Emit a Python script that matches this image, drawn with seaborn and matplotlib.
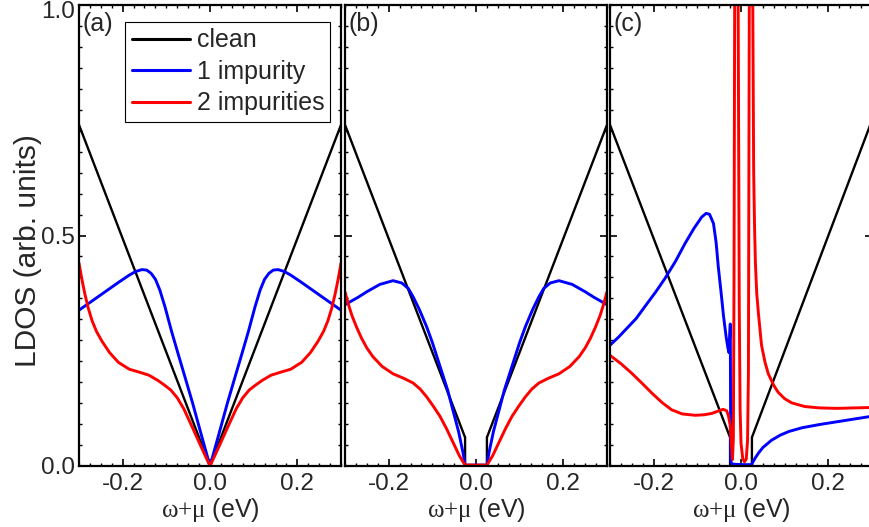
import numpy as np
import pandas as pd
import matplotlib
matplotlib.use("Agg")
import matplotlib.pyplot as plt
import matplotlib.transforms as mtransforms
import seaborn as sns
from matplotlib.ticker import MultipleLocator, FixedLocator

# ---------------- data ----------------
# panel (a)
a_clean_w = [-0.3, 0.0, 0.3]
a_clean_v = [0.74, 0.0, 0.74]
a_one_w = [-0.300, -0.270, -0.240, -0.210, -0.185, -0.170, -0.156, -0.145, -0.135, -0.125,
           -0.115, -0.103, -0.088, -0.072, -0.057, -0.040, -0.020, 0.000,
           0.020, 0.040, 0.057, 0.072, 0.088, 0.103, 0.115, 0.125, 0.135, 0.145,
           0.156, 0.170, 0.185, 0.210, 0.240, 0.270, 0.300]
a_one_v = [0.338, 0.358, 0.378, 0.398, 0.414, 0.422, 0.426, 0.425, 0.418, 0.405,
           0.382, 0.345, 0.292, 0.240, 0.192, 0.137, 0.068, 0.000,
           0.068, 0.137, 0.192, 0.240, 0.292, 0.345, 0.382, 0.405, 0.418, 0.425,
           0.426, 0.422, 0.414, 0.398, 0.378, 0.358, 0.338]
a_two_w = [-0.300, -0.294, -0.287, -0.279, -0.270, -0.260, -0.247, -0.230, -0.210, -0.185,
           -0.160, -0.140, -0.120, -0.105, -0.090, -0.075, -0.060, -0.040, -0.020, 0.000,
           0.020, 0.040, 0.060, 0.075, 0.090, 0.105, 0.120, 0.140, 0.160, 0.185,
           0.210, 0.230, 0.247, 0.260, 0.270, 0.279, 0.287, 0.294, 0.300]
a_two_v = [0.440, 0.408, 0.375, 0.343, 0.315, 0.292, 0.270, 0.246, 0.225, 0.210,
           0.203, 0.197, 0.186, 0.176, 0.165, 0.148, 0.124, 0.083, 0.041, 0.000,
           0.041, 0.083, 0.124, 0.148, 0.165, 0.176, 0.186, 0.197, 0.203, 0.210,
           0.225, 0.246, 0.270, 0.292, 0.315, 0.343, 0.375, 0.408, 0.440]

# panel (b)
b_clean_w = [-0.3, -0.025, -0.025, 0.025, 0.025, 0.3]
b_clean_v = [0.74, 0.062, 0.0, 0.0, 0.062, 0.74]
b_one_w = [-0.300, -0.270, -0.250, -0.220, -0.190, -0.170, -0.155, -0.144, -0.130, -0.113,
           -0.100, -0.082, -0.065, -0.052, -0.040, -0.030, -0.025, 0.025,
           0.030, 0.040, 0.052, 0.065, 0.082, 0.100, 0.113, 0.130, 0.144, 0.155,
           0.170, 0.190, 0.220, 0.250, 0.270, 0.300]
b_one_v = [0.350, 0.366, 0.378, 0.394, 0.402, 0.397, 0.385, 0.367, 0.340, 0.302,
           0.268, 0.215, 0.165, 0.118, 0.075, 0.030, 0.002, 0.002,
           0.030, 0.075, 0.118, 0.165, 0.215, 0.268, 0.302, 0.340, 0.367, 0.385,
           0.397, 0.402, 0.394, 0.378, 0.366, 0.350]
b_two_w = [-0.300, -0.292, -0.284, -0.273, -0.262, -0.250, -0.236, -0.215, -0.190, -0.165,
           -0.144, -0.128, -0.113, -0.098, -0.082, -0.067, -0.052, -0.038, -0.025, 0.025,
           0.038, 0.052, 0.067, 0.082, 0.098, 0.113, 0.128, 0.144, 0.165, 0.190,
           0.215, 0.236, 0.250, 0.262, 0.273, 0.284, 0.292, 0.300]
b_two_v = [0.378, 0.350, 0.326, 0.300, 0.277, 0.256, 0.237, 0.216, 0.200, 0.190,
           0.180, 0.167, 0.150, 0.130, 0.107, 0.080, 0.050, 0.022, 0.002, 0.002,
           0.022, 0.050, 0.080, 0.107, 0.130, 0.150, 0.167, 0.180, 0.190, 0.200,
           0.216, 0.237, 0.256, 0.277, 0.300, 0.326, 0.350, 0.378]

# panel (c)
c_clean_w = [-0.3, -0.025, -0.025, 0.025, 0.025, 0.3]
c_clean_v = [0.74, 0.062, 0.0, 0.0, 0.062, 0.75]
c_one_w = [-0.300, -0.280, -0.265, -0.240, -0.220, -0.195, -0.174, -0.150, -0.128, -0.108,
           -0.090, -0.080, -0.072, -0.063, -0.057, -0.052, -0.046, -0.040, -0.034, -0.030,
           -0.0275, -0.0255, -0.0245, -0.0235, -0.020, 0.000, 0.024, 0.028, 0.033, 0.040,
           0.050, 0.070, 0.090, 0.110, 0.140, 0.180, 0.220, 0.260, 0.300]
c_one_v = [0.262, 0.280, 0.295, 0.320, 0.346, 0.378, 0.407, 0.444, 0.483, 0.515,
           0.540, 0.548, 0.546, 0.526, 0.485, 0.432, 0.380, 0.325, 0.280, 0.256,
           0.246, 0.290, 0.308, 0.010, 0.004, 0.003, 0.003, 0.010, 0.018, 0.028,
           0.040, 0.056, 0.067, 0.075, 0.083, 0.090, 0.096, 0.102, 0.108]
c_two_w = [-0.300, -0.275, -0.250, -0.225, -0.204, -0.180, -0.159, -0.135, -0.105, -0.085,
           -0.067, -0.050, -0.041, -0.033, -0.029, -0.025, -0.022, -0.0195, -0.0175, -0.016,
           -0.0145, -0.0105, -0.0065, -0.004, -0.002, 0.000, 0.004, 0.008, 0.012, 0.015,
           0.017, 0.019, 0.0235, 0.027, 0.029, 0.031, 0.033, 0.036, 0.040, 0.047,
           0.055, 0.0625, 0.075, 0.085, 0.100, 0.116, 0.146, 0.180, 0.220, 0.260, 0.300]
c_two_v = [0.240, 0.222, 0.201, 0.178, 0.158, 0.137, 0.122, 0.113, 0.110, 0.111,
           0.114, 0.120, 0.123, 0.120, 0.110, 0.090, 0.050, 0.014, 0.060, 0.400,
           1.000, 3.000, 1.000, 0.350, 0.120, 0.050, 0.016, 0.009, 0.015, 0.055,
           0.200, 1.000, 3.000, 1.000, 0.640, 0.520, 0.440, 0.375, 0.330, 0.262,
           0.225, 0.200, 0.175, 0.160, 0.146, 0.137, 0.129, 0.126, 0.125, 0.126, 0.127]

panels = [
    ("(a)", a_clean_w, a_clean_v, a_one_w, a_one_v, a_two_w, a_two_v),
    ("(b)", b_clean_w, b_clean_v, b_one_w, b_one_v, b_two_w, b_two_v),
    ("(c)", c_clean_w, c_clean_v, c_one_w, c_one_v, c_two_w, c_two_v),
]
series_names = ["clean", "1 impurity", "2 impurities"]
series_colors = ["#000000", "#0000ff", "#ff0000"]
y_ticks = [0.0, 0.5, 1.0]
y_ticklabels = ["0.0", "0.5", "1.0"]
x_ticks = [-0.2, 0.0, 0.2]
x_ticklabels = ["-0.2", "0.0", "0.2"]

# ---------------- style ----------------
sns.set_theme(style="ticks")
plt.rcParams["font.family"] = ["Liberation Sans", "DejaVu Sans"]
plt.rcParams["mathtext.fontset"] = "custom"
plt.rcParams["mathtext.rm"] = "Liberation Serif"
plt.rcParams["mathtext.it"] = "Liberation Serif:italic"

W, H = 869, 527
fig = plt.figure(figsize=(W / 100, H / 100), dpi=100)

ax_px = [(79, 341), (345, 607), (610, 872)]
top_px, bot_px = 5, 466

FS = 17.5
for i, (lab, cw, cv, ow, ov, tw, tv) in enumerate(panels):
    l, r = ax_px[i]
    ax = fig.add_axes([l / W, (H - bot_px) / H, (r - l) / W, (bot_px - top_px) / H])
    for (xw, yv), name, col, lw in zip([(cw, cv), (ow, ov), (tw, tv)], series_names,
                                       series_colors, [1.7, 2.1, 2.1]):
        sns.lineplot(x=xw, y=yv, ax=ax, color=col, lw=lw, estimator=None, sort=False,
                     legend=False)
    ax.set_xlim(-0.3, 0.3)
    ax.set_ylim(0.0, 1.0)
    ax.xaxis.set_major_locator(FixedLocator(x_ticks))
    ax.set_xticklabels(x_ticklabels)
    ax.xaxis.set_minor_locator(MultipleLocator(0.025))
    ax.yaxis.set_major_locator(FixedLocator(y_ticks))
    ax.yaxis.set_minor_locator(MultipleLocator(0.5 / 11))
    if i == 0:
        ax.set_yticklabels(y_ticklabels)
        ax.set_ylabel("LDOS (arb. units)", fontsize=21.5)
        ax.yaxis.set_label_coords(-0.142, 0.468)
    else:
        ax.set_yticklabels([])
        ax.set_ylabel("")
    ax.set_xlabel(r"$\mathrm{\omega{+}\mu}$ (eV)", fontsize=18, labelpad=1)
    ax.tick_params(which="both", direction="in", top=True, right=True,
                   labelsize=FS, color="black")
    ax.tick_params(which="major", length=5, width=1.2)
    ax.tick_params(which="minor", length=2.5, width=1.0)
    ax.tick_params(axis="x", pad=5)
    ax.tick_params(axis="y", pad=3)
    for s in ax.spines.values():
        s.set_linewidth(1.6)
        s.set_color("black")
    if i == 0:
        # nudge the top y tick label down so it stays inside the figure
        fig.canvas.draw()
        for t in ax.get_yticklabels():
            if t.get_text() == "1.0":
                t.set_transform(t.get_transform() +
                                mtransforms.ScaledTranslation(0, -4 / 100, fig.dpi_scale_trans))
    ax.text(0.012, 0.985, lab, transform=ax.transAxes, ha="left", va="top", fontsize=18)
    if i == 0:
        handles = [plt.Line2D([], [], color=c, lw=2.2) for c in series_colors]
        leg = ax.legend(handles, series_names, loc="upper left",
                        bbox_to_anchor=(0.177, 0.963), fontsize=18, frameon=True,
                        fancybox=False, framealpha=1, edgecolor="black",
                        handlelength=2.35, handletextpad=0.25, borderpad=0.25,
                        labelspacing=0.3, borderaxespad=0)
        leg.get_frame().set_linewidth(0.8)

fig.savefig("out.png", dpi=100)
